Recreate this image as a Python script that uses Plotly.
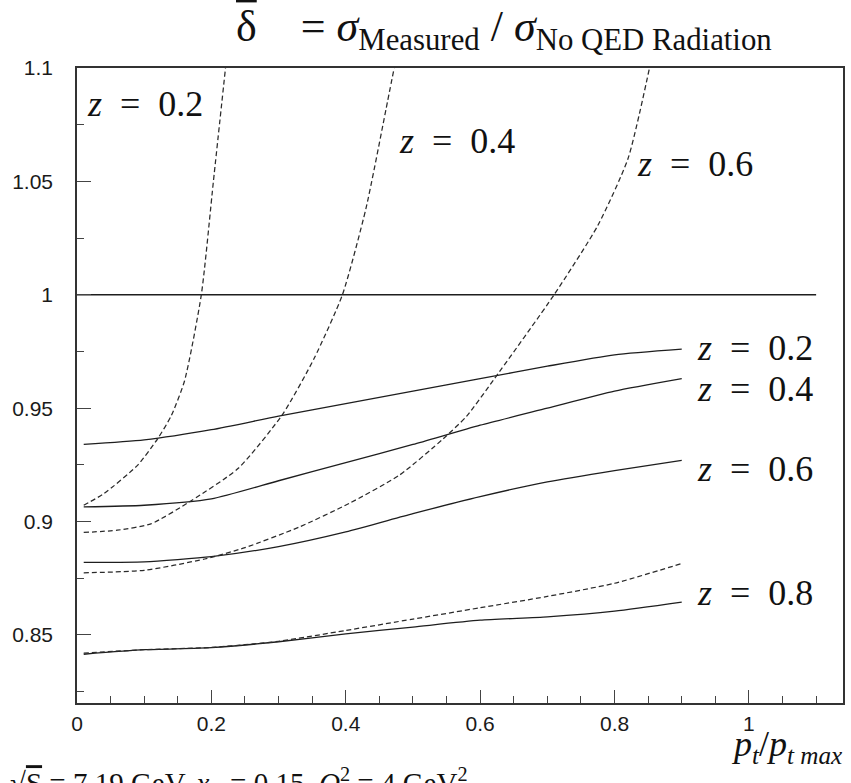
import plotly.graph_objects as go

# ---------------- data ----------------
pt_solid = [0.01, 0.1, 0.2, 0.3, 0.4, 0.5, 0.6, 0.7, 0.8, 0.9]
solid_z02 = [0.934, 0.936, 0.9405, 0.9465, 0.952, 0.9575, 0.963, 0.9685, 0.9735, 0.976]
solid_z04 = [0.9065, 0.9072, 0.910, 0.918, 0.926, 0.934, 0.9425, 0.950, 0.9575, 0.963]
solid_z06 = [0.882, 0.8822, 0.8845, 0.889, 0.8955, 0.9035, 0.911, 0.9175, 0.9225, 0.927]
solid_z08 = [0.8415, 0.8435, 0.8444, 0.847, 0.8505, 0.8535, 0.8565, 0.858, 0.8605, 0.8645]

dash_z08_x = [0.01, 0.1, 0.2, 0.3, 0.4, 0.5, 0.6, 0.7, 0.8, 0.9]
dash_z08_y = [0.842, 0.8435, 0.8445, 0.8472, 0.852, 0.857, 0.862, 0.867, 0.8728, 0.8815]

dash_z06_x = [0.01, 0.1, 0.19, 0.25, 0.33, 0.405, 0.48, 0.545, 0.58, 0.62, 0.71, 0.775, 0.82, 0.852]
dash_z06_y = [0.8774, 0.8785, 0.8835, 0.8885, 0.8975, 0.908, 0.9205, 0.9365, 0.9465, 0.9625, 1.0, 1.0305, 1.06, 1.1]

dash_z04_x = [0.01, 0.06, 0.11, 0.17, 0.24, 0.306, 0.353, 0.395, 0.43, 0.46, 0.472]
dash_z04_y = [0.8952, 0.8962, 0.899, 0.9092, 0.9235, 0.9473, 0.972, 1.0, 1.038, 1.082, 1.1]

dash_z02_x = [0.01, 0.04, 0.09, 0.12, 0.14, 0.16, 0.185, 0.203, 0.221]
dash_z02_y = [0.9072, 0.9123, 0.9248, 0.9365, 0.9465, 0.962, 1.0, 1.05, 1.1]

unity_x = [0.0, 1.1]
unity_y = [1.0, 1.0]

x_tickvals = [0, 0.2, 0.4, 0.6, 0.8, 1.0]
x_ticktext = ["0", "0.2", "0.4", "0.6", "0.8", "1"]
y_tickvals = [0.85, 0.9, 0.95, 1.0, 1.05, 1.1]
y_ticktext = ["0.85", "0.9", "0.95", "1", "1.05", "1.1"]

# ---------------- figure ----------------
fig = go.Figure()
SOLID = dict(color="#1e1e1e", width=1.3)
DASH = dict(color="#2a2a2a", width=1.25, dash="5px,3px")

fig.add_trace(go.Scatter(x=unity_x, y=unity_y, mode="lines",
                         line=dict(color="#1e1e1e", width=1.5)))
for ys in [solid_z02, solid_z04, solid_z06, solid_z08]:
    fig.add_trace(go.Scatter(x=pt_solid, y=ys, mode="lines",
                             line=dict(**SOLID, shape="spline", smoothing=0.6)))
for xs, ys in [(dash_z02_x, dash_z02_y), (dash_z04_x, dash_z04_y),
               (dash_z06_x, dash_z06_y), (dash_z08_x, dash_z08_y)]:
    fig.add_trace(go.Scatter(x=xs, y=ys, mode="lines",
                             line=dict(**DASH, shape="spline", smoothing=0.6)))

SERIF = "Liberation Serif, Times New Roman, serif"
lab_font = dict(family=SERIF, size=36, color="#111")

def zlab(x, y, val):
    fig.add_annotation(x=x, y=y, xref="x", yref="y", xanchor="left", yanchor="middle",
                       text=f"<i>z</i>\u2002=\u2002{val}", showarrow=False, font=lab_font)

zlab(0.012, 1.084, "0.2")
zlab(0.476, 1.068, "0.4")
zlab(0.831, 1.0575, "0.6")
zlab(0.92, 0.9765, "0.2")
zlab(0.92, 0.9585, "0.4")
zlab(0.92, 0.9232, "0.6")
zlab(0.92, 0.8686, "0.8")

fig.update_layout(
    width=851, height=783,
    margin=dict(l=77, r=6, t=68, b=80),
    paper_bgcolor="white", plot_bgcolor="white",
    showlegend=False,
    xaxis=dict(range=[0, 1.14], tickvals=x_tickvals, ticktext=x_ticktext,
               ticks="inside", ticklen=13, tickwidth=1.2, tickcolor="#444",
               minor=dict(ticks="inside", ticklen=7, tickwidth=1.0, tickcolor="#444",
                          tick0=0, dtick=0.05),
               showgrid=False, zeroline=False, showline=True, mirror=True,
               linecolor="#333", linewidth=1.6, ticklabelstandoff=1,
               tickfont=dict(family="Liberation Sans, Arial, sans-serif", size=21, color="#1a1a1a")),
    yaxis=dict(range=[0.82, 1.1], tickvals=y_tickvals, ticktext=y_ticktext,
               ticks="inside", ticklen=14, tickwidth=1.2, tickcolor="#444",
               minor=dict(ticks="inside", ticklen=7, tickwidth=1.0, tickcolor="#444",
                          tick0=0.8, dtick=0.025),
               showgrid=False, zeroline=False, showline=True, mirror=True,
               linecolor="#333", linewidth=1.6, ticklabelstandoff=18,
               tickfont=dict(family="Liberation Sans, Arial, sans-serif", size=21, color="#1a1a1a")),
)

def px_x(px):
    return (px - 77) / 768.0

def px_y(py):
    return (703 - py) / 635.0

# title
fig.add_annotation(x=px_x(234), y=px_y(30), xref="paper", yref="paper",
                   xanchor="left", yanchor="middle",
                   text="<span style='text-decoration:overline'>δ</span>\u2003= <i>σ</i><sub>Measured</sub> / <i>σ</i><sub>No QED Radiation</sub>",
                   showarrow=False, font=dict(family=SERIF, size=44, color="#111"))

# bottom texts
fig.add_annotation(x=px_x(8), y=px_y(783), xref="paper", yref="paper",
                   xanchor="left", yanchor="middle",
                   text="√<span style='text-decoration:overline'>S</span> = 7.19 GeV, <i>x</i><sub>B</sub> = 0.15, <i>Q</i><sup>2</sup> = 4 GeV<sup>2</sup>",
                   showarrow=False, font=dict(family=SERIF, size=29, color="#111"))
fig.add_annotation(x=px_x(846), y=px_y(746), xref="paper", yref="paper",
                   xanchor="right", yanchor="middle",
                   text="<i>p</i><sub><i>t</i></sub>/<i>p</i><sub><i>t max</i></sub>",
                   showarrow=False, font=dict(family=SERIF, size=36, color="#111"))

fig.write_html("out.html")
